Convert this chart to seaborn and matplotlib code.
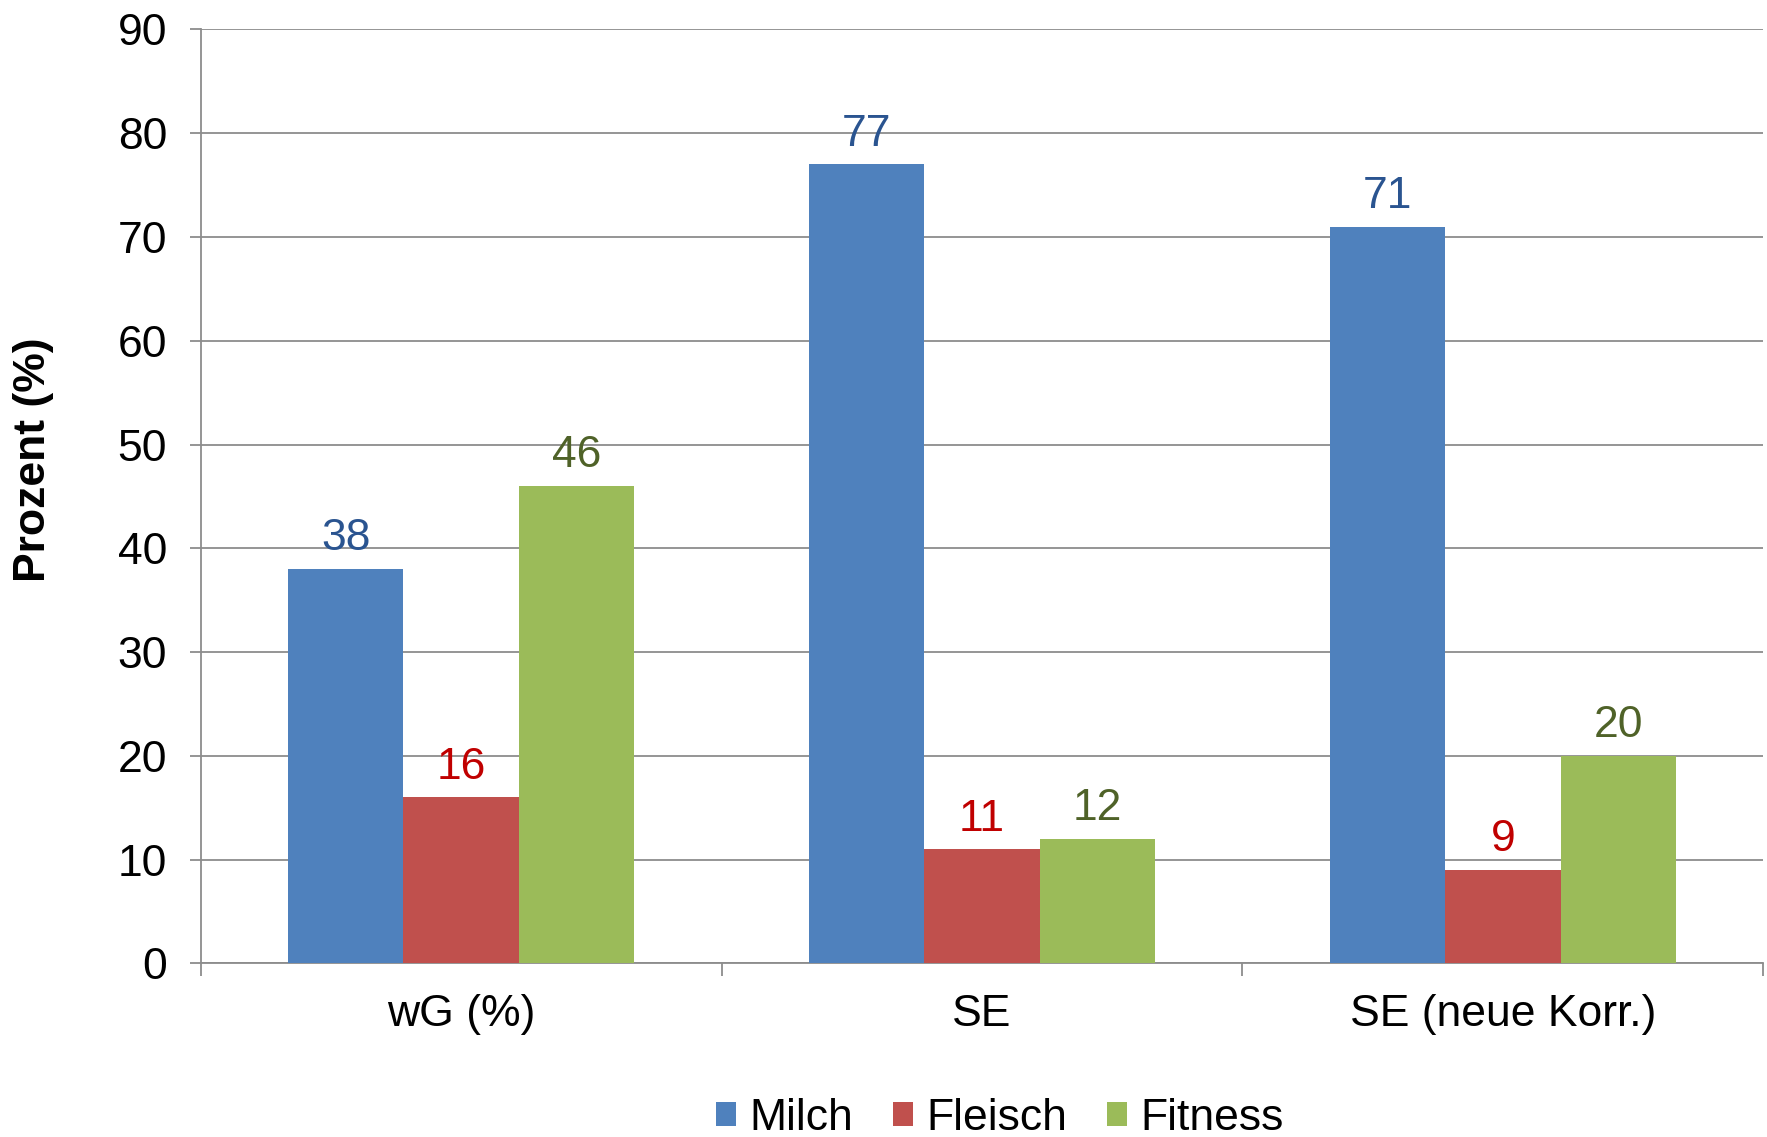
import matplotlib
matplotlib.use("Agg")
import matplotlib.pyplot as plt
import seaborn as sns
import pandas as pd
from matplotlib.patches import Patch

# Values per trait group and selection criterion
categories = ["wG (%)", "SE", "SE (neue Korr.)"]
series_names = ["Milch", "Fleisch", "Fitness"]
milch = [38, 77, 71]
fleisch = [16, 11, 9]
fitness = [46, 12, 20]
y_ticks = [0, 10, 20, 30, 40, 50, 60, 70, 80, 90]

bar_colors = ["#4F81BD", "#C0504D", "#9BBB59"]
label_colors = ["#2A5490", "#C00000", "#4F6228"]

rows = []
for name, vals in zip(series_names, [milch, fleisch, fitness]):
    for cat, v in zip(categories, vals):
        rows.append({"Kategorie": cat, "Merkmal": name, "Prozent": v})
df = pd.DataFrame(rows)

sns.set_style("white")
plt.rcParams["font.family"] = ["Liberation Sans", "DejaVu Sans"]
plt.rcParams["text.color"] = "black"
plt.rcParams["axes.labelcolor"] = "black"
plt.rcParams["xtick.labelcolor"] = "black"
plt.rcParams["ytick.labelcolor"] = "black"

fig = plt.figure(figsize=(17.67, 11.37), dpi=100)
ax = fig.add_axes([0.1135, 0.1526, 0.8845, 0.8216])

sns.barplot(data=df, x="Kategorie", y="Prozent", hue="Merkmal",
            order=categories, hue_order=series_names,
            palette=bar_colors, width=0.665, gap=0,
            saturation=1, linewidth=0, ax=ax, legend=False, zorder=3)

for cont, col in zip(ax.containers, label_colors):
    ax.bar_label(cont, labels=[f"{v:g}" for v in cont.datavalues],
                 padding=7, color=col, fontsize=32)

ax.set_ylim(0, 90)
ax.set_yticks(y_ticks)
ax.set_xlim(-0.5, 2.5)
ax.yaxis.grid(True, color="#8C8C8C", linewidth=1.3, zorder=0)
ax.set_axisbelow(True)

for side in ["top", "right"]:
    ax.spines[side].set_visible(False)
for side in ["left", "bottom"]:
    ax.spines[side].set_color("#8C8C8C")
    ax.spines[side].set_linewidth(1.3)

ax.tick_params(axis="y", which="major", length=8, width=1.3, color="#8C8C8C",
               labelsize=32, pad=16, left=True, direction="out",
               labelcolor="black")
ax.tick_params(axis="x", which="major", length=0, labelsize=32, pad=22,
               labelcolor="black")
ax.set_xticks([-0.5, 0.5, 1.5, 2.5], minor=True)
ax.tick_params(axis="x", which="minor", length=9, width=1.3, color="#8C8C8C",
               bottom=True, direction="out")

ax.set_xlabel("")
ax.set_ylabel("Prozent (%)", fontsize=32, fontweight="bold", color="black")
ax.yaxis.set_label_coords(-0.094, 0.539)

handles = [Patch(facecolor=c, edgecolor="none") for c in bar_colors]
fig.legend(handles, series_names, loc="lower center",
           bbox_to_anchor=(0.566, -0.037), ncol=3, frameon=False,
           fontsize=32, handlelength=0.45, handleheight=0.45,
           handletextpad=0.3, columnspacing=0.9)

fig.savefig("out.png", dpi=100)
